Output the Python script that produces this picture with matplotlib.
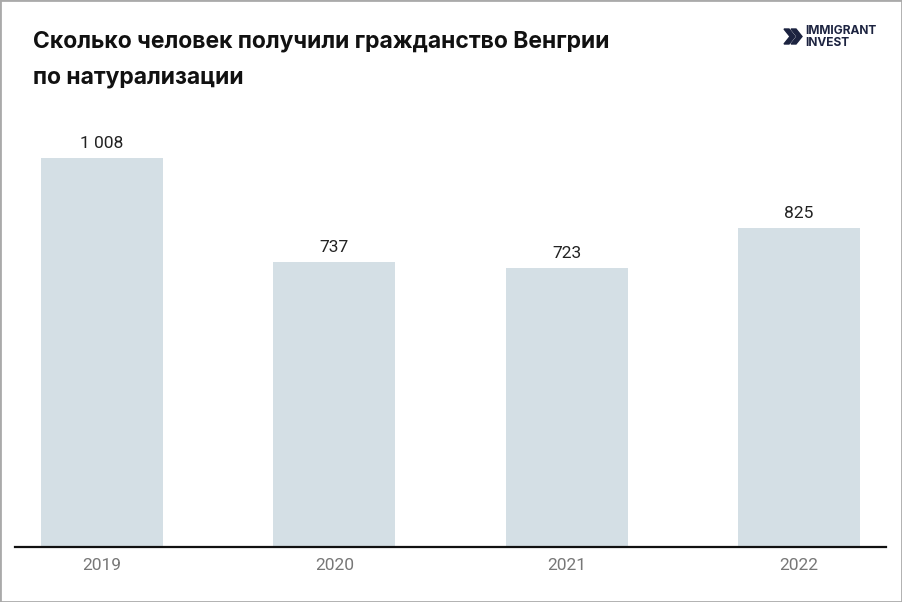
import matplotlib.pyplot as plt
from matplotlib.patches import Rectangle, Polygon

years = ['2019', '2020', '2021', '2022']
counts = [1008, 737, 723, 825]
labels = ['1 008', '737', '723', '825']

W, H = 902, 602
fig = plt.figure(figsize=(W / 100, H / 100), dpi=100)

# axes placed in pixel terms
ax = fig.add_axes([15 / W, 1 - 547 / H, (886 - 15) / W, (547 - 122) / H])
x = range(len(years))
ax.bar(x, counts, width=0.526, color='#d4dfe5')
ax.set_xlim(-0.375, 3.375)
ax.set_ylim(0, 1100)
for xi, v, lab in zip(x, counts, labels):
    ax.text(xi, v + 18, lab, ha='center', va='bottom', fontsize=12.5,
            family='Roboto', color='#222222')

for s in ['top', 'right', 'left']:
    ax.spines[s].set_visible(False)
ax.spines['bottom'].set_color('#111111')
ax.spines['bottom'].set_linewidth(1.6)
ax.set_yticks([])
ax.set_xticks(list(x))
ax.set_xticklabels(years, family='Roboto', fontsize=12.5, color='#777777')
ax.tick_params(axis='x', length=0, pad=8)

# title
fig.text(33 / W, 1 - 48 / H, 'Сколько человек получили гражданство Венгрии',
         fontsize=16.5, fontweight='bold', family='Inter', color='#111111',
         va='baseline')
fig.text(33 / W, 1 - 83 / H, 'по натурализации',
         fontsize=16.5, fontweight='bold', family='Inter', color='#111111',
         va='baseline')

# logo
navy = '#1c2340'
def px(xp, yp):
    return (xp / W, 1 - yp / H)
fig.patches.append(Polygon([px(784, 29), px(789, 29), px(795, 36.5), px(789, 44), px(784, 44), px(790, 36.5)],
                           closed=True, transform=fig.transFigure, color=navy))
fig.patches.append(Polygon([px(791, 29), px(796, 29), px(802, 36.5), px(796, 44), px(791, 44), px(797, 36.5)],
                           closed=True, transform=fig.transFigure, color=navy))
fig.text(805 / W, 1 - 37 / H, 'IMMIGRANT\nINVEST', fontsize=8.6, fontweight='bold',
         family='Inter', color=navy, va='center', ha='left', linespacing=0.9)

# frame
fig.patches.append(Rectangle((0, 0), 1, 1, transform=fig.transFigure, fill=False,
                             edgecolor='#aaaaaa', linewidth=2))

fig.savefig('out.png', dpi=100)
